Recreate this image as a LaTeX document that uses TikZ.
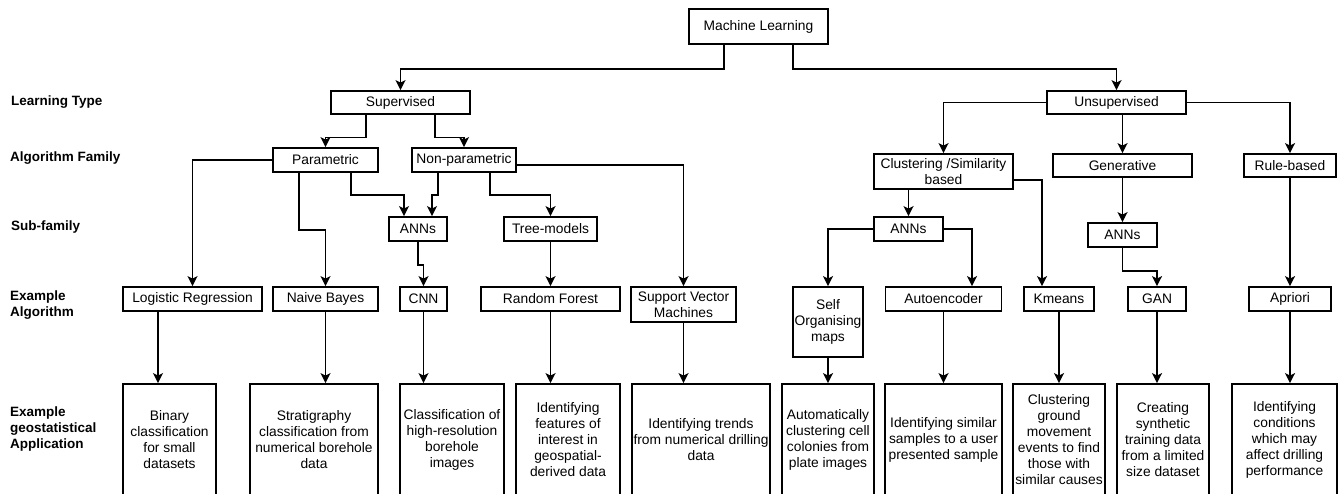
\documentclass[tikz,border=0pt]{standalone}
\usepackage{fontspec}
\setmainfont{Liberation Sans}
\usepackage{tikz}
\usetikzlibrary{calc}
\usetikzlibrary{arrows.meta}

\tikzset{
	box/.style={draw, line width=1.8pt, inner sep=0pt, minimum height=24pt, align=center, font=\fontsize{13.8}{16}\selectfont},
	app/.style={box, minimum height=112pt},
	rowlabel/.style={anchor=west, align=left, inner sep=0pt, font=\fontsize{13.5}{16}\selectfont\bfseries},
	arr/.style={line width=1.8pt, -{Stealth[length=10pt,width=10pt,inset=2.5pt]}},
	conn/.style={line width=1.8pt}
}

\begin{document}
\begin{tikzpicture}[x=1pt,y=-1pt]
			\useasboundingbox[fill=white] (0,0) rectangle (1341,493);

			% row labels
			\node[rowlabel] (lt) at (11,102.5) {Learning Type};
			\node[rowlabel] (af) at (10,158) {Algorithm Family};
			\node[rowlabel] (sf) at (11,227) {Sub-family};
			\node[rowlabel] (ea) at (10,305) {Example\\Algorithm};
			\node[rowlabel] (eg) at (10,429) {Example\\geostatistical\\Application};

			% tree
			\node[box, minimum width=139pt, minimum height=35pt] (ML) at (758.5,26.5) {Machine Learning};

			\node[box, minimum width=139pt, minimum height=23pt] (sup) at (400.5,102.5) {Supervised};
			\node[box, minimum width=139pt, minimum height=23pt] (unsup) at (1116.5,102.5) {Unsupervised};

			\node[box, minimum width=105pt] (param) at (325.5,160) {Parametric};
			\node[box, minimum width=104pt] (nonparam) at (464,160) {Non-parametric};
			\node[box, minimum width=139pt, minimum height=35pt] (clust) at (943.5,171.5) {Clustering /Similarity\\based};
			\node[box, minimum width=139pt, minimum height=23pt] (gen) at (1122.5,165.5) {Generative};
			\node[box, minimum width=92pt, minimum height=23pt] (rule) at (1290,165.5) {Rule-based};

			\node[box, minimum width=58pt] (annS) at (418,229) {ANNs};
			\node[box, minimum width=93pt] (tree) at (550.5,229) {Tree-models};
			\node[box, minimum width=69pt] (annC) at (908.5,229) {ANNs};
			\node[box, minimum width=69pt] (annG) at (1122.5,235) {ANNs};

			\node[box, minimum width=139pt] (logreg) at (192.5,299) {Logistic Regression};
			\node[box, minimum width=105pt] (naive) at (325.5,299) {Naive Bayes};
			\node[box, minimum width=47pt] (cnn) at (423.5,299) {CNN};
			\node[box, minimum width=139pt] (rf) at (550.5,299) {Random Forest};
			\node[box, minimum width=105pt, minimum height=35pt] (svm) at (683.5,304.5) {Support Vector\\Machines};
			\node[box, minimum width=70pt, minimum height=70pt] (som) at (828,322) {Self\\Organising\\maps};
			\node[box, minimum width=116pt] (auto) at (943.5,299) {Autoencoder};
			\node[box, minimum width=70pt] (kmeans) at (1059,299) {Kmeans};
			\node[box, minimum width=58pt] (gan) at (1157,299) {GAN};
			\node[box, minimum width=82pt] (apriori) at (1290,299) {Apriori};

			\node[app, minimum width=93pt] (app1) at (169.5,440) {Binary\\classification\\for small\\datasets};
			\node[app, minimum width=128pt] (app2) at (314,440) {Stratigraphy\\classification from\\numerical borehole\\data};
			\node[app, minimum width=104pt] (app3) at (452,440) {Classification of\\high-resolution\\borehole\\images};
			\node[app, minimum width=104pt] (app4) at (568,440) {Identifying\\features of\\interest in\\geospatial-\\derived data};
			\node[app, minimum width=138pt] (app5) at (701,440) {Identifying trends\\from numerical drilling\\data};
			\node[app, minimum width=92pt] (app6) at (828,440) {Automatically\\clustering cell\\colonies from\\plate images};
			\node[app, minimum width=117pt] (app7) at (943.5,440) {Identifying similar\\samples to a user\\presented sample};
			\node[app, minimum width=92pt] (app8) at (1059,440) {Clustering\\ground\\movement\\events to find\\those with\\similar causes};
			\node[app, minimum width=92pt] (app9) at (1163,440) {Creating\\synthetic\\training data\\from a limited\\size dataset};
			\node[app, minimum width=105pt] (app10) at (1284.5,440) {Identifying\\conditions\\which may\\affect drilling\\performance};

			% learning type
			\draw[arr] ($(ML.south)+(-34.5,0)$) -- ++(0,24) -| (sup.north);
			\draw[arr] ($(ML.south)+(34.5,0)$) -- ++(0,24) -| (unsup.north);

			% supervised
			\draw[arr] ($(sup.south)+(-34.5,0)$) -- ++(0,22.5) -| (param.north);
			\draw[arr] ($(sup.south)+(34.5,0)$) -- ++(0,22.5) -| (nonparam.north);
			\draw[arr] (param.west) -| (logreg.north);
			\draw[arr] ($(param.south)+(-26.5,0)$) -- ++(0,57) -| (naive.north);
			\draw[arr] ($(param.south)+(25.5,0)$) -- ++(0,22) -| ($(annS.north)+(-14,0)$);
			\draw[arr] ($(nonparam.south)+(-26,0)$) -- ++(0,22) -| ($(annS.north)+(14,0)$);
			\draw[arr] ($(nonparam.south)+(26,0)$) -- ++(0,22) -| (tree.north);
			\draw[arr] ($(nonparam.east)+(0,5)$) -| (svm.north);
			\draw[arr] (annS.south) -- ++(0,23) -| (cnn.north);
			\draw[arr] (tree.south) -- (rf.north);

			% unsupervised
			\draw[arr] (unsup.west) -| (clust.north);
			\draw[arr] (unsup.south -| gen.north) -- (gen.north);
			\draw[arr] (unsup.east) -| (rule.north);
			\draw[arr] (clust.south -| annC.north) -- (annC.north);
			\draw[arr] ($(clust.east)+(0,8.5)$) -| ($(kmeans.north)+(-17,0)$);
			\draw[arr] (annC.west) -| (som.north);
			\draw[arr] (annC.east) -| ($(auto.north)+(28.5,0)$);
			\draw[arr] (gen.south) -- (annG.north);
			\draw[arr] (annG.south) -- ++(0,23) -| (gan.north);
			\draw[arr] (rule.south) -- (apriori.north);

			% applications
			\draw[arr] ($(logreg.south)+(-34.5,0)$) coordinate (lr1) -- (lr1 |- app1.north);
			\draw[arr] (naive.south) -- (naive.south |- app2.north);
			\draw[arr] (cnn.south) -- (cnn.south |- app3.north);
			\draw[arr] (rf.south) -- (rf.south |- app4.north);
			\draw[arr] (svm.south) -- (svm.south |- app5.north);
			\draw[arr] (som.south) -- (app6.north);
			\draw[arr] (auto.south) -- (auto.south |- app7.north);
			\draw[arr] (kmeans.south) -- (app8.north);
			\draw[arr] (gan.south) -- (gan.south |- app9.north);
			\draw[arr] (apriori.south) -- (apriori.south |- app10.north);

\end{tikzpicture}
\end{document}
